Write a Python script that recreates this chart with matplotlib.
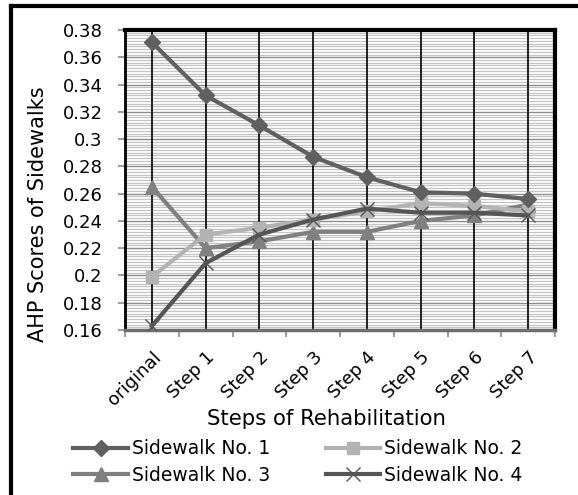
import matplotlib
matplotlib.use("Agg")
import matplotlib.pyplot as plt
from matplotlib.lines import Line2D
from matplotlib.ticker import MultipleLocator
from matplotlib.transforms import ScaledTranslation

categories = ["original", "Step 1", "Step 2", "Step 3", "Step 4", "Step 5", "Step 6", "Step 7"]
sidewalk1 = [0.371, 0.332, 0.310, 0.287, 0.272, 0.261, 0.260, 0.256]
sidewalk2 = [0.199, 0.230, 0.235, 0.241, 0.247, 0.253, 0.251, 0.247]
sidewalk3 = [0.265, 0.220, 0.225, 0.232, 0.232, 0.240, 0.244, 0.252]
sidewalk4 = [0.163, 0.209, 0.230, 0.241, 0.249, 0.246, 0.246, 0.244]
series_names = ["Sidewalk No. 1", "Sidewalk No. 2", "Sidewalk No. 3", "Sidewalk No. 4"]
y_ticks = [0.16, 0.18, 0.2, 0.22, 0.24, 0.26, 0.28, 0.3, 0.32, 0.34, 0.36, 0.38]
y_tick_labels = ["0.16", "0.18", "0.2", "0.22", "0.24", "0.26", "0.28", "0.3", "0.32", "0.34", "0.36", "0.38"]

plt.rcParams['font.family'] = ['DejaVu Sans']

W, H = 578, 495
fig = plt.figure(figsize=(W / 100, H / 100), dpi=100)
fig.patch.set_facecolor("white")

# outer frame (left and top visible)
fig.add_artist(Line2D([11 / W, 11 / W], [0, 1 - 6 / H], color="black", lw=3, transform=fig.transFigure))
fig.add_artist(Line2D([11 / W, 1], [1 - 6 / H, 1 - 6 / H], color="black", lw=3, transform=fig.transFigure))

ax = fig.add_axes([125 / W, 1 - 330 / H, 430 / W, 300 / H])
x = list(range(len(categories)))

ax.set_xlim(-0.5, len(categories) - 0.5)
ax.set_ylim(0.16, 0.38)

ax.yaxis.set_minor_locator(MultipleLocator(0.002))
ax.grid(which="minor", axis="y", color="#c4c4c4", lw=0.9)
ax.grid(which="major", axis="y", color="#8c8c8c", lw=1.0)
for xi in x:
    ax.axvline(xi, color="black", lw=1.2, zorder=2.5)

l1, = ax.plot(x, sidewalk1, color="#606060", lw=3, marker="D", ms=8.5, label=series_names[0], zorder=5)
l2, = ax.plot(x, sidewalk2, color="#b3b3b3", lw=3, marker="s", ms=8.5, label=series_names[1], zorder=4)
l3, = ax.plot(x, sidewalk3, color="#808080", lw=3, marker="^", ms=10, label=series_names[2], zorder=3)
l4, = ax.plot(x, sidewalk4, color="#555555", lw=3, marker="x", ms=9.5, mew=1.0, label=series_names[3], zorder=6)

ax.set_yticks(y_ticks)
ax.set_yticklabels(y_tick_labels)
ax.set_xticks(x)
ax.set_xticklabels(categories, rotation=45, ha="right", va="top", rotation_mode="anchor")
for lab in ax.get_xticklabels():
    lab.set_transform(lab.get_transform() + ScaledTranslation(5 / 100, 0, fig.dpi_scale_trans))
ax.set_xticks([i - 0.5 for i in range(len(categories) + 1)], minor=True)
ax.tick_params(axis="x", which="major", length=0, labelsize=13, pad=13)
ax.tick_params(axis="x", which="minor", length=5, color="#8c8c8c", width=1.2)
ax.tick_params(axis="y", which="major", length=5, color="#8c8c8c", width=1.2, labelsize=13, pad=11)
ax.tick_params(axis="y", which="minor", length=0)

for s in ["top", "right"]:
    ax.spines[s].set_color("black")
    ax.spines[s].set_linewidth(3)
ax.spines["left"].set_color("black")
ax.spines["left"].set_linewidth(2)
ax.spines["bottom"].set_color("#6e6e6e")
ax.spines["bottom"].set_linewidth(2.5)

fig.text(38 / W, 1 - 214 / H, "AHP Scores of Sidewalks", fontsize=15, rotation=90,
         ha="center", va="center")
fig.text(326 / W, 1 - 419 / H, "Steps of Rehabilitation", fontsize=15.3, ha="center", va="center")

handles = [l1, l3, l2, l4]
labels = [series_names[0], series_names[2], series_names[1], series_names[3]]
leg = fig.legend(handles, labels, ncol=2, loc="center", bbox_to_anchor=(298 / W, 1 - 462 / H),
                 frameon=False, fontsize=13.5, handlelength=2.9, handletextpad=0.2,
                 columnspacing=3.0, labelspacing=0.42, borderaxespad=0, borderpad=0)

fig.savefig("out.png", dpi=100, facecolor="white")
